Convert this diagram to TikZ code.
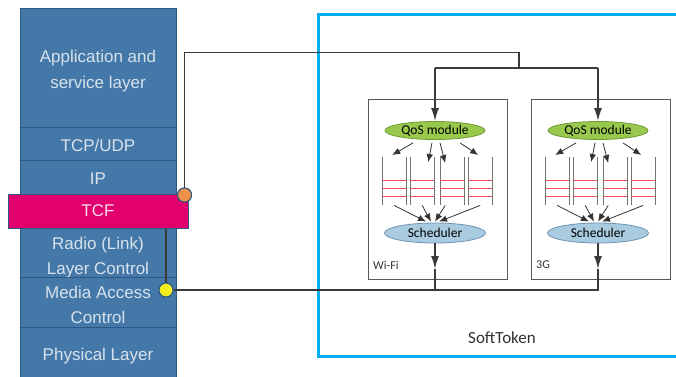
\documentclass[tikz,border=0pt]{standalone}
\usepackage{fontspec}
\setmainfont{Carlito}
\newfontfamily\stackfont{Liberation Sans}
\usetikzlibrary{arrows.meta,shapes.geometric,calc}

\definecolor{stackblue}{HTML}{4478A8}
\definecolor{stackedge}{HTML}{2B5783}
\definecolor{stacktext}{HTML}{D8E2EC}
\definecolor{tcfpink}{HTML}{E2006F}
\definecolor{tcftext}{HTML}{F6DCEA}
\definecolor{softcyan}{HTML}{00AEEF}
\definecolor{wire}{HTML}{3A3A3A}
\definecolor{qosgreen}{HTML}{98C94C}
\definecolor{qosedge}{HTML}{6F9A34}
\definecolor{schedblue}{HTML}{A9CBE0}
\definecolor{schededge}{HTML}{6F93B3}
\definecolor{slotred}{HTML}{F0505A}
\definecolor{portorange}{HTML}{F0914A}
\definecolor{portyellow}{HTML}{F2EE1C}

% stack labels, lowered a little inside their boxes (extent kept, so the box stays put)
\newcommand\stacklabel[2][-3pt]{\raisebox{#1}[\height][\depth]{\begin{tabular}{@{}c@{}}#2\end{tabular}}}

\tikzset{
  layer/.style={rectangle, draw=stackedge, line width=1pt, fill=stackblue,
    text=stacktext, minimum width=156, inner sep=0pt, align=center,
    font=\stackfont\fontsize{17}{25.5}\selectfont},
  tcfbox/.style={layer, fill=tcfpink, text=tcftext, minimum width=180},
  softbox/.style={rectangle, draw=softcyan, line width=3pt},
  techbox/.style={rectangle, draw=black!65, line width=0.8pt},
  qosnode/.style={ellipse, draw=qosedge, fill=qosgreen, line width=0.8pt,
    minimum width=100, minimum height=18, inner sep=0pt,
    font=\fontsize{13.5}{15}\selectfont},
  schednode/.style={ellipse, draw=schededge, fill=schedblue, line width=0.8pt,
    minimum width=101, minimum height=20, inner sep=0pt,
    font=\fontsize{13.5}{15}\selectfont},
  queue/.style={rectangle, draw=none, minimum width=24, minimum height=48, inner sep=0pt},
  qwall/.style={draw=black!55, line width=1pt},
  slot/.style={draw=slotred, line width=1pt},
  conn/.style={draw=wire, line width=1.6pt},
  bigarrow/.style={conn, -{Latex[length=13pt,width=8pt]}},
  smallarrow/.style={draw=black!80, line width=0.8pt, -{Latex[length=8pt,width=6.5pt]}},
  port/.style={circle, draw=stackedge, line width=1pt, minimum size=14, inner sep=0pt},
}

% one access technology: QoS module, four queues and a scheduler
\newcommand\accessgroup[3]{%
  \begin{scope}[shift={(#1,0)}]
    \node[techbox, anchor=north west, minimum width=139, minimum height=180] (box#2) at (0,99) {};
    \node[anchor=west, inner sep=0pt, text=black!80, font=\fontsize{12}{14}\selectfont] (lbl#2) at (5,265) {#3};
    \node[qosnode] (qos#2) at (67,130.5) {QoS module};
    \node[schednode] (sch#2) at (67,233) {Scheduler};
    \foreach \i/\xl in {1/14,2/42,3/72,4/100}{
      \node[queue, anchor=north west] (q#2\i) at (\xl,157) {};
      \draw[qwall] (q#2\i.north west) -- (q#2\i.south west)
                   (q#2\i.north east) -- (q#2\i.south east);
      \foreach \d in {23,31,39}
        \draw[slot] ([yshift=-\d pt]q#2\i.north west) -- ([yshift=-\d pt]q#2\i.north east);
    }
    \draw[smallarrow] ([xshift=-22,yshift=-3]qos#2.south) -- ([xshift=-2,yshift=2]q#21.north);
    \draw[smallarrow] ([xshift=-3,yshift=-3]qos#2.south) -- ([xshift=6,yshift=-5]q#22.north);
    \draw[smallarrow] ([xshift=5,yshift=-3]qos#2.south) -- ([xshift=-7,yshift=-6]q#23.north);
    \draw[smallarrow] ([xshift=25,yshift=-3]qos#2.south) -- ([xshift=-2,yshift=2]q#24.north);
    \draw[smallarrow] (q#21.south) -- ([xshift=-9,yshift=1]sch#2.north);
    \draw[smallarrow] (q#22.south) -- ([xshift=-4,yshift=1]sch#2.north);
    \draw[smallarrow] ([xshift=-7]q#23.south) -- ([xshift=0,yshift=1]sch#2.north);
    \draw[smallarrow] (q#24.south) -- ([xshift=4,yshift=1]sch#2.north);
    \coordinate (fork#2) at (67,68);
    \coordinate (out#2) at (67,269);
    \coordinate (tap#2) at (67,290);
    \draw[bigarrow] (fork#2) -- (qos#2.north);
    \draw[bigarrow] (sch#2.south) -- (out#2);
  \end{scope}%
}

\begin{document}
\begin{tikzpicture}[x=1pt,y=-1pt]
  \useasboundingbox (0,0) rectangle (676,376);
  \fill[white] (0,0) rectangle (676,376);

  % SoftToken container, open towards the right edge
  \node[softbox, anchor=north west, minimum width=390, minimum height=342.5] (soft) at (317,12.5) {};
  \node[font=\fontsize{17}{20}\selectfont, text=black!80] (softlabel) at (502,338) {SoftToken};

  % protocol stack
  \node[layer, minimum height=119] (app)   at (98,67.5)  {\stacklabel[-3pt]{Application and\\service layer}};
  \node[layer, minimum height=33]  (tcp)   at (98,143.5) {\stacklabel[-3pt]{TCP/UDP}};
  \node[layer, minimum height=34]  (ip)    at (98,177)   {\stacklabel[-2pt]{IP}};
  \node[layer, minimum height=50]  (radio) at (98,253)   {\stacklabel[-4pt]{Radio (Link)\\Layer Control}};
  \node[layer, minimum height=49]  (mac)   at (98,302.5) {\stacklabel[-3.5pt]{Media Access\\Control}};
  \node[layer, minimum height=54]  (phy)   at (98,354)   {\stacklabel[-1pt]{Physical Layer}};
  \node[tcfbox, minimum height=34] (tcf)   at (98,211)   {\stacklabel[0pt]{TCF}};

  % access technologies
  \accessgroup{368}{W}{Wi-Fi}
  \accessgroup{531}{G}{3G}

  % attachment points on the stack
  \node[port, fill=portorange] (tcfport) at (184.5,195) {};
  \node[port, fill=portyellow] (macport) at (166,290) {};

  % downlink path from the TCF into both QoS modules
  \coordinate (split) at (519,52.5);
  \draw[conn] (tcfport.north) |- (split) -- (split |- forkW);
  \draw[conn] (forkW) -- (forkG);

  % TCF down to the MAC port
  \draw[conn] (tcf.south -| macport) -- (macport.north);

  % schedulers out to the MAC port
  \draw[conn] (macport.east) -- (tapG) -- (outG);
  \draw[conn] (tapW) -- (outW);

  % ports on top of the wires
  \node[port, fill=portorange] at (tcfport) {};
  \node[port, fill=portyellow] at (macport) {};
\end{tikzpicture}
\end{document}
